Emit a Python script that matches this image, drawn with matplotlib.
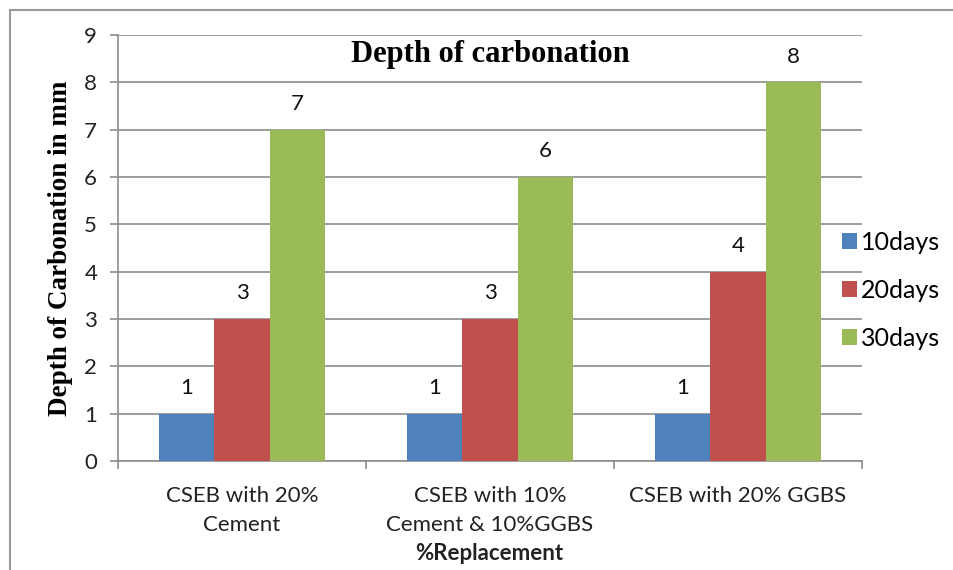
import matplotlib.pyplot as plt
import numpy as np
from matplotlib.patches import Rectangle

categories = ['CSEB with 20%\nCement', 'CSEB with 10%\nCement & 10%GGBS', 'CSEB with 20% GGBS']
series = ['10days', '20days', '30days']
d10 = [1, 1, 1]
d20 = [3, 3, 4]
d30 = [7, 6, 8]
colors = ['#4F81BD', '#C0504D', '#9BBB59']

fig = plt.figure(figsize=(9.54, 5.7), dpi=100)
ax = fig.add_axes([118/954, 1-461/570, 744/954, 426/570])

# outer chart frame (cut off at right/bottom in the source)
fig.patches.append(Rectangle((10/954, -0.1), 1.2, 1-10/570+0.1, transform=fig.transFigure,
                             fill=False, edgecolor='#9a9a9a', linewidth=1.5))

x = np.arange(len(categories))
w = 0.222
for i, (vals, c, lab) in enumerate(zip([d10, d20, d30], colors, series)):
    bars = ax.bar(x + (i - 1) * w, vals, w, color=c, label=lab, zorder=3)
    for b, v in zip(bars, vals):
        ax.annotate(str(v), (b.get_x() + b.get_width()/2, v), xytext=(0, 18.5),
                    textcoords='offset points', ha='center', va='center',
                    fontsize=16, family='Lato', color='#111111')

ax.set_xlim(-0.5, 2.5)
ax.set_ylim(0, 9)
ax.set_yticks(range(10))
ax.yaxis.grid(True, color='#8c8c8c', linewidth=1.2, zorder=0)
ax.set_axisbelow(True)
for s in ['top', 'right']:
    ax.spines[s].set_visible(False)
for s in ['left', 'bottom']:
    ax.spines[s].set_color('#8c8c8c')
    ax.spines[s].set_linewidth(1.2)

ax.set_xticks(x)
ax.set_xticklabels(categories, fontsize=16, family='Lato', color='#222222', linespacing=1.55)
ax.tick_params(axis='x', length=0, pad=18)
ax.set_xticks([-0.5, 0.5, 1.5, 2.5], minor=True)
ax.tick_params(axis='x', which='minor', length=6, color='#8c8c8c', width=1.2)
ax.tick_params(axis='y', length=6, color='#8c8c8c', width=1.2, labelsize=16, pad=9,
               labelcolor='#222222')
for t in ax.get_yticklabels():
    t.set_family('Lato')

ax.set_title('Depth of carbonation', fontsize=22, fontweight='bold', family='Liberation Serif',
             y=0.935, va='center')
ax.set_ylabel('Depth of Carbonation in mm', fontsize=19.5, fontweight='bold',
              family='Liberation Serif', labelpad=8)
fig.text(489/954, 1-553/570, '%Replacement', ha='center', va='center', fontsize=16,
         fontweight='bold', family='Lato', color='#222222')

ax.legend(loc='center left', bbox_to_anchor=(0.96, 0.40), frameon=False,
          prop={'family': 'Lato', 'size': 18}, handlelength=0.6, handleheight=0.6,
          handletextpad=0.15, labelspacing=1.0, borderaxespad=0)

fig.savefig('out.png', dpi=100)
